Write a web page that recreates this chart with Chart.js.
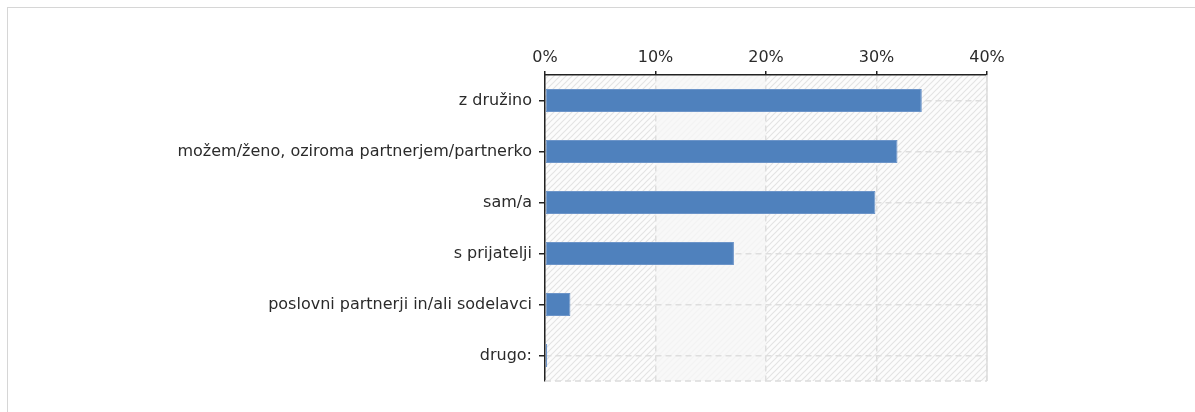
<!DOCTYPE html>
<html><head><meta charset="utf-8">
<script src="https://cdn.jsdelivr.net/npm/chart.js@4/dist/chart.umd.min.js"></script>
<style>
html,body{margin:0;padding:0;background:#fff;overflow:hidden}
#wrap{position:relative;width:1195px;height:412px}
#frame{position:absolute;left:7px;top:7px;width:1200px;height:420px;border:1.5px solid #d6d6d6;box-sizing:border-box}
canvas{position:absolute;left:0;top:0}
</style></head><body>
<div id="wrap"><div id="frame"></div><canvas id="c" width="1195" height="412"></canvas></div>
<script>
const categories = ["z družino", "možem/ženo, oziroma partnerjem/partnerko", "sam/a", "s prijatelji", "poslovni partnerji in/ali sodelavci", "drugo:"];
const shares = [34.1, 31.9, 29.9, 17.1, 2.3, 0.2];
const axisMin = 0, axisMax = 40, axisStep = 10;

function hatch() {
  const s = 6, c = document.createElement('canvas');
  c.width = s; c.height = s;
  const g = c.getContext('2d');
  g.fillStyle = '#fcfcfc'; g.fillRect(0, 0, s, s);
  g.strokeStyle = '#e4e4e4'; g.lineWidth = 1.2;
  g.beginPath();
  g.moveTo(0, s); g.lineTo(s, 0);
  g.moveTo(-1, 1); g.lineTo(1, -1);
  g.moveTo(s - 1, s + 1); g.lineTo(s + 1, s - 1);
  g.stroke();
  return g.createPattern(c, 'repeat');
}

const bgPlugin = {
  id: 'bg',
  beforeDraw(chart) {
    const {ctx, chartArea: a, scales: {x}} = chart;
    ctx.save();
    ctx.fillStyle = hatch();
    ctx.fillRect(a.left, a.top, a.right - a.left, a.bottom - a.top);
    ctx.fillStyle = 'rgba(246,246,246,0.8)';
    const x1 = x.getPixelForValue(10), x2 = x.getPixelForValue(20);
    ctx.fillRect(x1, a.top, x2 - x1, a.bottom - a.top);
    ctx.restore();
  },
  beforeDatasetsDraw(chart) {
    const {ctx, chartArea: a} = chart;
    ctx.save();
    ctx.strokeStyle = '#dcdcdc'; ctx.lineWidth = 1.5;
    ctx.beginPath();
    ctx.moveTo(a.right, a.top); ctx.lineTo(a.right, a.bottom);
    ctx.stroke();
    ctx.setLineDash([6, 4]);
    ctx.beginPath();
    ctx.moveTo(a.left, a.bottom); ctx.lineTo(a.right, a.bottom);
    ctx.stroke();
    ctx.restore();
  }
};

Chart.defaults.font.family = "'DejaVu Sans', Verdana, sans-serif";
Chart.defaults.font.size = 16;
Chart.defaults.color = '#333';

new Chart(document.getElementById('c'), {
  type: 'bar',
  data: {
    labels: categories,
    datasets: [{
      data: shares,
      backgroundColor: '#4f81bd',
      borderColor: '#6d95c9',
      borderWidth: 1,
      borderSkipped: false,
      barPercentage: 0.9,
      categoryPercentage: 0.5
    }]
  },
  options: {
    indexAxis: 'y',
    responsive: false,
    animation: false,
    devicePixelRatio: 1,
    layout: {padding: {left: 0, top: 0, right: 208, bottom: 31}},
    plugins: {legend: {display: false}, tooltip: {enabled: false}},
    scales: {
      x: {
        position: 'top',
        min: axisMin, max: axisMax,
        afterFit(s) { s.height = 75; },
        ticks: {stepSize: axisStep, padding: 4, callback: v => v + '%', color: '#2b2b2b'},
        grid: {color: '#dedede', lineWidth: 1.5, tickColor: '#222', tickLength: 4, tickWidth: 1.5, tickBorderDash: []},
        border: {display: true, color: '#222', width: 1.5, dash: [6, 4]}
      },
      y: {
        afterFit(s) { s.width = 545; },
        ticks: {padding: 7, color: '#2b2b2b'},
        grid: {offset: false, color: '#dedede', lineWidth: 1.5, tickColor: '#222', tickLength: 6, tickWidth: 1.5, tickBorderDash: []},
        border: {display: true, color: '#222', width: 1.5, dash: [6, 4]}
      }
    }
  },
  plugins: [bgPlugin]
});
</script>
</body></html>
